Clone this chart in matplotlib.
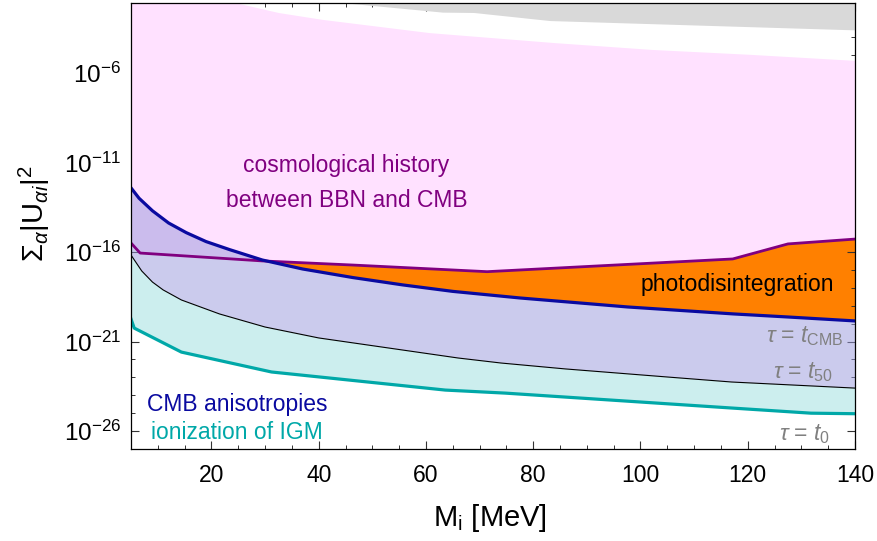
import numpy as np
import matplotlib
matplotlib.use('Agg')
import matplotlib.pyplot as plt

plt.rcParams['font.family'] = ['Liberation Sans', 'DejaVu Sans']
plt.rcParams['mathtext.fontset'] = 'custom'
plt.rcParams['mathtext.rm'] = 'Liberation Sans'
plt.rcParams['mathtext.it'] = 'Liberation Sans:italic'
plt.rcParams['mathtext.bf'] = 'Liberation Sans:bold'

# ---- data (mass in MeV, log10 of mixing) ----
# tau = t_CMB line (CMB anisotropies bound)
m_cmb = [5, 6.5, 9, 12, 15.3, 19, 23.4, 29.5, 37, 46.4, 55.7,
         65, 77.6, 97.6, 117.4, 127.5, 140]
lg_cmb = [-12.42, -13.0, -13.7, -14.38, -14.92, -15.42, -15.87, -16.45, -16.95,
          -17.43, -17.84, -18.2, -18.57, -19.07, -19.46, -19.63, -19.85]
# BBN / photodisintegration line
m_bbn = [5, 6.7, 29.5, 46.4, 71.4, 117.2, 127.5, 140]
lg_bbn = [-15.5, -16.06, -16.5, -16.73, -17.1, -16.39, -15.55, -15.28]
# tau = t_50 line
m_t50 = [5, 7, 9, 11, 14.4, 21.5, 30, 40, 53, 66, 74, 86, 105, 117, 140]
lg_t50 = [-16.17, -17.06, -17.68, -18.12, -18.68, -19.46, -20.19, -20.80, -21.36,
          -21.92, -22.2, -22.53, -22.98, -23.26, -23.60]
# ionization of IGM line
m_igm = [5, 5.6, 14.4, 31.2, 63.6, 74.8, 117.4, 131.8, 140]
lg_igm = [-19.74, -20.25, -21.59, -22.70, -23.71, -23.88, -24.72, -25.0, -25.03]
# upper edge of the cosmological history region
m_top = [5, 24.9, 32.6, 40.7, 60.7, 84.1, 102.2, 120.3, 140]
lg_top = [-1.0, -2.13, -2.66, -3.04, -3.78, -4.34, -4.72, -4.99, -5.33]
# grey region at the top (lower edge)
m_grey = [40, 45.2, 63.1, 68.9, 83.1, 140]
lg_grey = [-1.7, -2.1, -2.61, -2.63, -3.08, -3.6]

def p(v):
    return 10.0 ** np.asarray(v)

fig = plt.figure(figsize=(8.77, 5.41), dpi=100)
ax = fig.add_axes([131/877, 1-449/541, (855-131)/877, (449-3)/541])
ax.set_yscale('log')

# photodisintegration (between BBN line and CMB line)
ax.fill(np.r_[m_bbn, m_cmb[::-1]], p(np.r_[lg_bbn, lg_cmb[::-1]]),
        color='#ff8000', lw=0, zorder=1)
# cosmological history region
ax.fill(np.r_[m_bbn, m_top[::-1]], p(np.r_[lg_bbn, lg_top[::-1]]),
        color='#ffe1ff', lw=0, zorder=2)
# grey
ax.fill_between(m_grey, p(lg_grey), 1e-1, color='#d9d9d9', lw=0, zorder=2)
# CMB anisotropies band
ax.fill(np.r_[m_cmb, m_t50[::-1]], p(np.r_[lg_cmb, lg_t50[::-1]]),
        color='#9999dd', alpha=0.5, lw=0, zorder=3)
# ionization band
ax.fill(np.r_[m_t50, m_igm[::-1]], p(np.r_[lg_t50, lg_igm[::-1]]),
        color='#cceeee', lw=0, zorder=3)

ax.plot(m_t50, p(lg_t50), color='black', lw=0.8, zorder=4)
ax.plot(m_igm, p(lg_igm), color='#00a8a8', lw=2.3, zorder=5)
ax.plot(m_bbn, p(lg_bbn), color='#800080', lw=2.0, zorder=5)
ax.plot(m_cmb, p(lg_cmb), color='#0a0aa0', lw=2.3, zorder=6)

ax.set_xlim(5, 140)
ax.set_ylim(1e-27, 10**-2.1)

ax.set_xticks([20, 40, 60, 80, 100, 120, 140])
ax.set_xticks(np.arange(5, 141, 5), minor=True)
ax.set_yticks([1e-26, 1e-21, 1e-16, 1e-11, 1e-6])
ax.set_yticklabels([r'$10^{-26}$', r'$10^{-21}$', r'$10^{-16}$', r'$10^{-11}$', r'$10^{-6}$'])
ax.set_yticks(10.0 ** np.arange(-27, -2), minor=True)
ax.yaxis.set_minor_formatter(plt.NullFormatter())
ax.tick_params(which='both', direction='in', top=True, right=True, labelsize=16.5,
               color='#333333')
ax.tick_params(axis='y', labelsize=17.5)
ax.tick_params(which='major', length=5.5, width=0.8)
ax.tick_params(which='minor', length=2.8, width=0.7)
ax.tick_params(axis='x', pad=11)
ax.tick_params(axis='y', pad=7)
for s in ax.spines.values():
    s.set_linewidth(0.9)
    s.set_zorder(10)

fs = 16.5
ax.text(45.2, 10**-11.2, 'cosmological history', color='#800080', fontsize=fs,
        ha='center', va='center', zorder=8)
ax.text(45.2, 10**-13.1, 'between BBN and CMB', color='#800080', fontsize=fs,
        ha='center', va='center', zorder=8)
ax.text(136.1, 10**-17.84, 'photodisintegration', color='black', fontsize=fs,
        ha='right', va='center', zorder=8)
ax.text(137.8, 10**-20.7, r'$\tau$ = $t_{\mathrm{CMB}}$', color='#808080', fontsize=fs,
        ha='right', va='center', zorder=8)
ax.text(135.9, 10**-22.7, r'$\tau$ = $t_{50}$', color='#808080', fontsize=fs,
        ha='right', va='center', zorder=8)
ax.text(135.3, 10**-26.17, r'$\tau$ = $t_{0}$', color='#808080', fontsize=fs,
        ha='right', va='center', zorder=8)
ax.text(8.0, 10**-24.5, 'CMB anisotropies', color='#0a0aa0', fontsize=fs,
        ha='left', va='center', zorder=8)
ax.text(8.8, 10**-26.06, 'ionization of IGM', color='#00a8a8', fontsize=fs,
        ha='left', va='center', zorder=8)

fig.text(490/877, 1-518/541, r'M$_{\mathrm{i}}$ [MeV]', fontsize=21,
         ha='center', va='center')
fig.text(34/877, 1-214/541, r'$\Sigma_\alpha|\mathrm{U}_{\alpha i}|^2$', fontsize=21,
         ha='center', va='center', rotation=90)

fig.savefig('out.png', dpi=100)
